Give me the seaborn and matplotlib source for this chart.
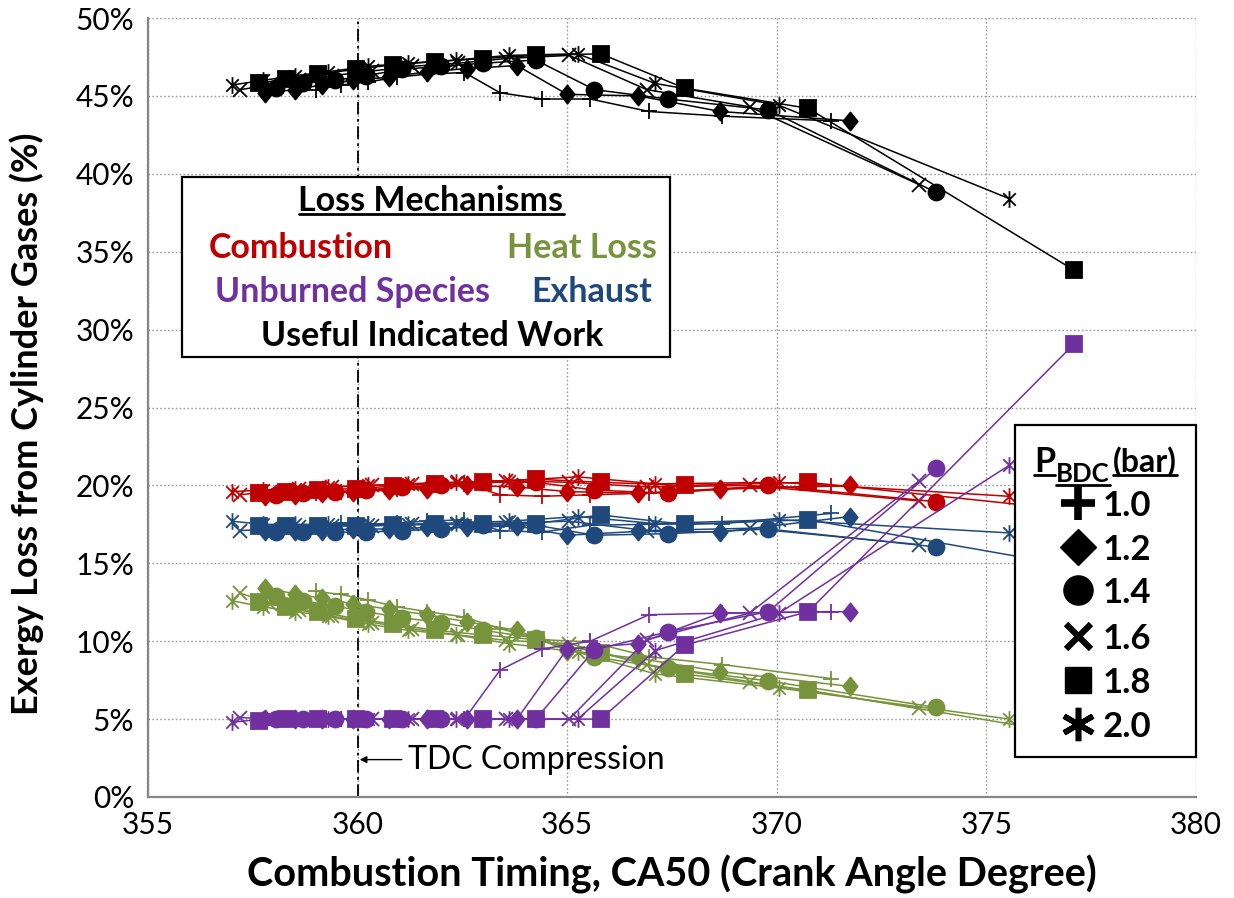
import matplotlib
matplotlib.use("Agg")
import matplotlib.pyplot as plt
from matplotlib.path import Path
from matplotlib.patches import Rectangle
from matplotlib.lines import Line2D
import pandas as pd
import seaborn as sns

# ---------------------------------------------------------------- data
pressures = ["1.0", "1.2", "1.4", "1.6", "1.8", "2.0"]

ca50 = {
    "1.0": [359.0, 359.6, 360.25, 360.95, 361.65, 362.55, 363.4, 364.4, 365.55, 366.95, 368.7, 371.3],
    "1.2": [357.8, 358.5, 359.15, 359.9, 360.75, 361.65, 362.6, 363.8, 365.0, 366.7, 368.65, 371.75],
    "1.4": [358.05, 358.7, 359.45, 360.2, 361.05, 362.0, 363.0, 364.25, 365.65, 367.4, 369.8, 373.8],
    "1.6": [357.2, 357.9, 358.6, 359.4, 360.35, 361.3, 362.4, 363.55, 365.05, 366.9, 369.35, 373.4],
    "1.8": [357.65, 358.3, 359.05, 359.95, 360.85, 361.85, 363.0, 364.25, 365.8, 367.8, 370.75, 377.1],
    "2.0": [357.0, 357.75, 358.5, 359.3, 360.25, 361.2, 362.35, 363.6, 365.25, 367.1, 370.05, 375.55],
}

useful_work = {
    "1.0": [45.4, 45.7, 45.9, 46.2, 46.4, 46.5, 45.2, 44.8, 44.8, 44.0, 43.7, 43.4],
    "1.2": [45.2, 45.4, 45.7, 46.0, 46.2, 46.55, 46.75, 46.95, 45.1, 45.0, 44.0, 43.4],
    "1.4": [45.5, 45.8, 46.0, 46.3, 46.7, 46.9, 47.1, 47.3, 45.4, 44.8, 44.1, 38.8],
    "1.6": [45.4, 45.7, 46.0, 46.3, 46.6, 46.9, 47.1, 47.4, 47.6, 45.4, 44.3, 39.3],
    "1.8": [45.8, 46.1, 46.4, 46.7, 47.0, 47.2, 47.4, 47.6, 47.7, 45.5, 44.2, 33.8],
    "2.0": [45.7, 46.0, 46.3, 46.55, 46.9, 47.1, 47.3, 47.6, 47.7, 45.8, 44.4, 38.4],
}

combustion = {
    "1.0": [19.5, 19.6, 19.7, 19.8, 19.9, 20.1, 19.4, 19.3, 19.4, 19.5, 19.8, 19.95],
    "1.2": [19.3, 19.4, 19.5, 19.6, 19.7, 19.8, 20.0, 19.9, 19.6, 19.5, 19.75, 20.0],
    "1.4": [19.4, 19.5, 19.6, 19.7, 19.9, 20.0, 20.2, 20.2, 19.7, 19.5, 20.0, 18.95],
    "1.6": [19.4, 19.6, 19.8, 19.9, 20.0, 20.1, 20.2, 20.3, 20.2, 19.9, 20.0, 19.0],
    "1.8": [19.5, 19.6, 19.7, 19.8, 19.95, 20.1, 20.25, 20.4, 20.2, 20.0, 20.2, 18.4],
    "2.0": [19.6, 19.7, 19.8, 19.9, 20.0, 20.1, 20.2, 20.3, 20.55, 20.1, 20.2, 19.3],
}

exhaust = {
    "1.0": [17.4, 17.6, 17.5, 17.6, 17.7, 17.8, 17.1, 17.0, 17.45, 17.5, 17.55, 18.2],
    "1.2": [17.1, 17.1, 17.1, 17.2, 17.2, 17.3, 17.3, 17.4, 16.8, 17.05, 17.0, 18.0],
    "1.4": [17.0, 17.0, 17.0, 17.0, 17.1, 17.2, 17.45, 17.45, 16.8, 16.9, 17.2, 16.05],
    "1.6": [17.1, 17.2, 17.3, 17.4, 17.4, 17.5, 17.5, 17.6, 17.7, 17.1, 17.25, 16.2],
    "1.8": [17.4, 17.4, 17.4, 17.4, 17.45, 17.5, 17.5, 17.55, 18.1, 17.5, 17.8, 14.8],
    "2.0": [17.7, 17.5, 17.5, 17.5, 17.5, 17.5, 17.6, 17.7, 18.0, 17.55, 17.8, 16.95],
}

heat_loss = {
    "1.0": [13.2, 13.0, 12.65, 12.2, 11.9, 11.55, 10.8, 10.1, 9.95, 9.0, 8.5, 7.6],
    "1.2": [13.4, 13.05, 12.75, 12.4, 12.05, 11.7, 11.25, 10.7, 9.4, 8.9, 8.05, 7.1],
    "1.4": [12.9, 12.6, 12.25, 11.9, 11.5, 11.2, 10.7, 10.2, 9.0, 8.25, 7.45, 5.75],
    "1.6": [13.1, 12.4, 12.0, 11.6, 11.2, 10.8, 10.4, 10.05, 9.85, 8.5, 7.4, 5.7],
    "1.8": [12.5, 12.2, 11.9, 11.45, 11.1, 10.7, 10.4, 10.1, 9.25, 7.9, 6.85, 4.0],
    "2.0": [12.6, 12.2, 11.9, 11.6, 11.1, 10.7, 10.4, 9.85, 9.3, 7.9, 7.0, 5.0],
}

unburned = {
    "1.0": [5.0, 5.0, 5.0, 5.0, 5.0, 5.0, 8.15, 9.5, 10.0, 11.7, 11.8, 11.9],
    "1.2": [5.0, 5.0, 5.0, 5.0, 5.0, 5.0, 5.0, 5.0, 9.5, 9.85, 11.8, 11.9],
    "1.4": [5.0, 5.0, 5.0, 5.0, 5.0, 5.0, 5.0, 5.0, 9.45, 10.6, 11.9, 21.1],
    "1.6": [5.1, 5.0, 5.0, 5.0, 5.0, 5.0, 5.0, 5.0, 5.0, 10.1, 11.8, 20.3],
    "1.8": [4.9, 5.0, 5.0, 5.0, 5.0, 5.0, 5.0, 5.0, 5.0, 9.75, 11.9, 29.1],
    "2.0": [4.8, 5.0, 5.0, 5.0, 5.0, 5.0, 5.0, 5.0, 5.0, 9.4, 11.8, 21.3],
}

mechanisms = ["Heat Loss", "Exhaust", "Combustion", "Unburned Species", "Useful Indicated Work"]
mechanism_values = {
    "Heat Loss": heat_loss,
    "Exhaust": exhaust,
    "Combustion": combustion,
    "Unburned Species": unburned,
    "Useful Indicated Work": useful_work,
}
y_ticks = [0, 5, 10, 15, 20, 25, 30, 35, 40, 45, 50]
x_ticks = [355, 360, 365, 370, 375, 380]

# ---------------------------------------------------------------- styling
RED, GREEN, PURPLE, BLUE = "#C00000", "#77933C", "#7030A0", "#1F497D"
colors = {
    "Heat Loss": GREEN,
    "Exhaust": BLUE,
    "Combustion": RED,
    "Unburned Species": PURPLE,
    "Useful Indicated Work": "black",
}

diamond = Path([(0, 1), (0.8, 0), (0, -1), (-0.8, 0), (0, 1)], closed=True)
asterisk = Path(
    [(0, -1), (0, 1), (-0.75, -0.75), (0.75, 0.75), (-0.75, 0.75), (0.75, -0.75)],
    [Path.MOVETO, Path.LINETO, Path.MOVETO, Path.LINETO, Path.MOVETO, Path.LINETO],
)
markers = {"1.0": "+", "1.2": diamond, "1.4": "o", "1.6": "x", "1.8": "s", "2.0": asterisk}
msizes = {"1.0": 12, "1.2": 13, "1.4": 11.5, "1.6": 10, "1.8": 11, "2.0": 12}

sns.set_style("white")
plt.rcParams["font.family"] = ["Lato", "DejaVu Sans"]
plt.rcParams["text.color"] = "black"
plt.rcParams["axes.labelcolor"] = "black"

rows = []
for mech in mechanisms:
    for p in pressures:
        for x, y in zip(ca50[p], mechanism_values[mech][p]):
            rows.append({"mechanism": mech, "pressure": p, "ca50": x, "loss": y})
df = pd.DataFrame(rows)

W, H = 1234, 898
fig = plt.figure(figsize=(W / 100, H / 100), dpi=100)
ax = fig.add_axes([148 / W, 1 - 797 / H, (1196 - 148) / W, (797 - 18) / H])

for z, mech in enumerate(mechanisms):
    c = colors[mech]
    for p in pressures:
        sub = df[(df["mechanism"] == mech) & (df["pressure"] == p)]
        sns.lineplot(
            data=sub, x="ca50", y="loss", ax=ax, sort=False, estimator=None,
            color=c, lw=1.1, marker=markers[p], markersize=msizes[p],
            markeredgecolor=c, markerfacecolor=c, markeredgewidth=1.3,
            zorder=3 + z, legend=False,
        )

ax.set_xlim(355, 380)
ax.set_ylim(0, 50)
ax.set_xticks(x_ticks)
ax.set_xticklabels([str(v) for v in x_ticks])
ax.set_yticks(y_ticks)
ax.set_yticklabels([f"{v}%" for v in y_ticks])
ax.grid(True, ls=(0, (1.2, 1.6)), color="#9A9A9A", lw=1.0)
ax.set_axisbelow(True)
for s in ["top", "right"]:
    ax.spines[s].set_visible(False)
for s in ["left", "bottom"]:
    ax.spines[s].set_color("#868686")
    ax.spines[s].set_linewidth(1.6)
ax.tick_params(axis="both", direction="out", length=6, width=1.4, color="#868686",
               labelsize=21.5, labelcolor="black", pad=4)

ax.set_xlabel("Combustion Timing, CA50 (Crank Angle Degree)", fontsize=28.5,
              fontweight="bold", color="black")
ax.set_ylabel("Exergy Loss from Cylinder Gases (%)", fontsize=26,
              fontweight="bold", color="black")
ax.xaxis.label.set_va("center")
ax.yaxis.label.set_va("center")
ax.xaxis.set_label_coords(0.5, (797 - 874) / 779)
ax.yaxis.set_label_coords((27 - 148) / 1048, (797 - 424) / 779)

# TDC marker line with its label
ax.axvline(360, color="black", lw=1.3, ls=(0, (7, 2.5, 1.5, 2.5)), zorder=2)
ax.annotate("TDC Compression", xy=(360.05, 2.4), xytext=(361.2, 2.4),
            fontsize=23, va="center", ha="left",
            arrowprops=dict(arrowstyle="-|>", color="black", lw=1.0,
                            mutation_scale=10, shrinkA=2, shrinkB=0))


def fx(px):
    return px / W


def fy(py):
    return 1 - py / H


def box(x0, y0, x1, y1):
    r = Rectangle((fx(x0), fy(y1)), fx(x1) - fx(x0), fy(y0) - fy(y1),
                  transform=fig.transFigure, fc="white", ec="black", lw=1.6, zorder=10)
    fig.add_artist(r)


def label(px, py, s, color="black", ha="left", size=24.5, weight="bold", va="baseline"):
    return fig.text(fx(px), fy(py), s, color=color, ha=ha, va=va,
                    fontsize=size, fontweight=weight, zorder=11)


def underline(t, drop=3, lw=2.0, color="black"):
    fig.canvas.draw()
    bb = t.get_window_extent()
    x_, y_ = t.get_position()
    yb = y_ * H - drop
    fig.add_artist(Line2D([bb.x0 / W, bb.x1 / W], [yb / H, yb / H],
                          transform=fig.transFigure, color=color, lw=lw, zorder=11))


# loss-mechanism key
box(182, 177, 670, 357)
t = label(431, 211, "Loss Mechanisms", ha="center")
underline(t)
label(209, 258, "Combustion", color=RED)
label(657, 258, "Heat Loss", color=GREEN, ha="right")
label(215, 302, "Unburned Species", color=PURPLE)
label(652, 302, "Exhaust", color=BLUE, ha="right")
label(432, 346, "Useful Indicated Work", ha="center")

# pressure key
box(1015, 425, 1196, 757)
tp = label(1034, 472, "P", size=24.5)
fig.canvas.draw()
bp = tp.get_window_extent()
tb = fig.text(bp.x1 / W + 1 / W, fy(482), "BDC", fontsize=18.5, fontweight="bold",
              va="baseline", ha="left", zorder=11)
fig.canvas.draw()
bbdc = tb.get_window_extent()
tbar = fig.text(bbdc.x1 / W + 3 / W, fy(472), "(bar)", fontsize=23, fontweight="bold",
                va="baseline", ha="left", zorder=11)
underline(tp, drop=3)
underline(tb, drop=3)
underline(tbar, drop=3)

legend_rows = [503, 547, 590, 636, 680, 724]
legend_marker_kw = {
    "1.0": dict(marker="+", ms=24, mew=5.5),
    "1.2": dict(marker="D", ms=18, mew=1),
    "1.4": dict(marker="o", ms=21, mew=1),
    "1.6": dict(marker="x", ms=18, mew=4.5),
    "1.8": dict(marker="s", ms=19, mew=1),
    "2.0": dict(marker=(6, 2, 0), ms=24, mew=4.0),
}
for p, py in zip(pressures, legend_rows):
    fig.add_artist(Line2D([fx(1078)], [fy(py)], transform=fig.transFigure, color="black",
                          ls="none", zorder=11, **legend_marker_kw[p]))
    label(1103, py + 13, p, size=25)

fig.savefig("out.png", dpi=100)
